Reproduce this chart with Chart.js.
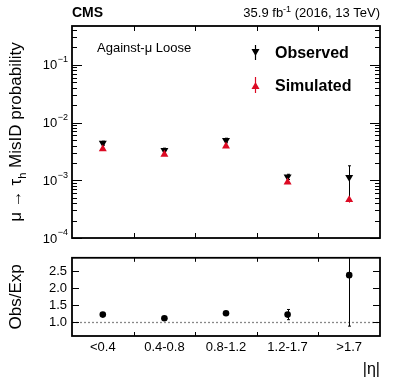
<!DOCTYPE html>
<html><head><meta charset="utf-8">
<script src="https://cdn.jsdelivr.net/npm/chart.js@4"></script>
<style>
html,body{margin:0;padding:0;background:#fff;width:399px;height:383px;overflow:hidden}
#w1{position:absolute;left:0;top:0;width:399px;height:245px}
#w2{position:absolute;left:0;top:245px;width:399px;height:138px}
</style></head><body>
<div id="w1"><canvas id="c1"></canvas></div>
<div id="w2"><canvas id="c2"></canvas></div>
<script>
const categories = ['<0.4', '0.4-0.8', '0.8-1.2', '1.2-1.7', '>1.7'];
const observed = [4.4e-3, 3.3e-3, 4.9e-3, 1.15e-3, 1.13e-3];
const observedErrUp = [0.35e-3, 0.3e-3, 0.45e-3, 0.12e-3, 0.65e-3];
const observedErrDown = [0.35e-3, 0.3e-3, 0.45e-3, 0.12e-3, 0.70e-3];
const simulated = [3.5e-3, 2.8e-3, 3.9e-3, 0.93e-3, 0.46e-3];
const simulatedErr = [0.15e-3, 0.12e-3, 0.15e-3, 0.06e-3, 0.05e-3];
const ratio = [1.23, 1.12, 1.27, 1.23, 2.39];
const ratioErrUp = [0.03, 0.03, 0.03, 0.15, 1.2];
const ratioErrDown = [0.03, 0.03, 0.03, 0.15, 1.5];
const logTickExponents = [-4, -3, -2, -1];
const ratioTicks = [1.0, 1.5, 2.0, 2.5];

const FONT = '"Liberation Sans", Arial, Helvetica, sans-serif';
const RED = '#dc0a23';
Chart.defaults.font.family = FONT;
Chart.defaults.animation = false;

function frameAndXTicks(ctx, ca, xs, len) {
  const n = categories.length;
  ctx.strokeStyle = '#000'; ctx.lineWidth = 1;
  for (let i = 1; i < n; i++) {
    const x = Math.round((xs.getPixelForValue(i - 1) + xs.getPixelForValue(i)) / 2) + 0.5;
    ctx.beginPath();
    ctx.moveTo(x, ca.bottom); ctx.lineTo(x, ca.bottom - len);
    ctx.moveTo(x, ca.top); ctx.lineTo(x, ca.top + len);
    ctx.stroke();
  }
  ctx.lineWidth = 1.8;
  ctx.strokeRect(ca.left, ca.top, ca.right - ca.left, ca.bottom - ca.top);
}

function errBar(ctx, x, y1, y2, cap, color, ca) {
  ctx.save();
  ctx.beginPath(); ctx.rect(ca.left, ca.top, ca.right - ca.left, ca.bottom - ca.top); ctx.clip();
  ctx.strokeStyle = color; ctx.lineWidth = 1;
  ctx.beginPath();
  ctx.moveTo(x, y1); ctx.lineTo(x, y2);
  if (cap) {
    ctx.moveTo(x - cap, y1); ctx.lineTo(x + cap, y1);
    ctx.moveTo(x - cap, y2); ctx.lineTo(x + cap, y2);
  }
  ctx.stroke();
  ctx.restore();
}

const mainPlugin = {
  id: 'mainDeco',
  beforeDatasetsDraw(chart) {
    const {ctx, chartArea: ca, scales: {x, y}} = chart;
    for (let i = 0; i < categories.length; i++) {
      const px = Math.round(x.getPixelForValue(i)) + 0.5;
      errBar(ctx, px, y.getPixelForValue(simulated[i] + simulatedErr[i]), y.getPixelForValue(simulated[i] - simulatedErr[i]), 0, RED, ca);
      errBar(ctx, px, y.getPixelForValue(observed[i] + observedErrUp[i]), y.getPixelForValue(observed[i] - observedErrDown[i]), 1.5, '#000', ca);
    }
  },
  afterDraw(chart) {
    const {ctx, chartArea: ca, scales: {x, y}} = chart;
    ctx.save();
    ctx.strokeStyle = '#000'; ctx.lineWidth = 1;
    for (let k = logTickExponents[0]; k <= 0; k++) {
      for (let m = 1; m <= 9; m++) {
        const v = m * Math.pow(10, k);
        if (v < y.min || v > y.max) continue;
        const py = Math.round(y.getPixelForValue(v)) + 0.5;
        const len = m === 1 ? 10 : 5;
        ctx.beginPath();
        ctx.moveTo(ca.left, py); ctx.lineTo(ca.left + len, py);
        ctx.moveTo(ca.right, py); ctx.lineTo(ca.right - len, py);
        ctx.stroke();
      }
    }
    frameAndXTicks(ctx, ca, x, 5);
    ctx.fillStyle = '#000';
    ctx.textBaseline = 'middle';
    for (const e of logTickExponents) {
      const py = y.getPixelForValue(Math.pow(10, e));
      const expTxt = '\u2212' + Math.abs(e);
      ctx.font = '9px ' + FONT;
      const we = ctx.measureText(expTxt).width;
      ctx.textAlign = 'right';
      ctx.fillText(expTxt, 68, py - 5);
      ctx.font = '13px ' + FONT;
      ctx.fillText('10', 68 - we - 0.5, py + 1);
    }
    ctx.save();
    ctx.translate(16, (ca.top + ca.bottom) / 2);
    ctx.rotate(-Math.PI / 2);
    ctx.textAlign = 'left'; ctx.textBaseline = 'middle';
    const p1 = '\u03bc \u2192 \u03c4', p2 = 'h', p3 = ' MisID probability';
    ctx.font = '17px ' + FONT; const w1 = ctx.measureText(p1).width, w3 = ctx.measureText(p3).width;
    ctx.font = '11px ' + FONT; const w2 = ctx.measureText(p2).width;
    let sx = -(w1 + w2 + w3) / 2;
    ctx.font = '17px ' + FONT; ctx.fillText(p1, sx, 0); sx += w1;
    ctx.font = '11px ' + FONT; ctx.fillText(p2, sx, 7); sx += w2;
    ctx.font = '17px ' + FONT; ctx.fillText(p3, sx, 0);
    ctx.restore();
    ctx.textBaseline = 'alphabetic';
    ctx.textAlign = 'left';
    ctx.font = 'bold 14px ' + FONT;
    ctx.fillText('CMS', ca.left, 17);
    ctx.textAlign = 'right';
    ctx.font = '13px ' + FONT;
    const tail = ' (2016, 13 TeV)';
    const wt = ctx.measureText(tail).width;
    ctx.fillText(tail, ca.right, 17);
    ctx.font = '9px ' + FONT;
    const sup = '-1';
    const ws = ctx.measureText(sup).width;
    ctx.fillText(sup, ca.right - wt, 12);
    ctx.font = '13px ' + FONT;
    ctx.fillText('35.9 fb', ca.right - wt - ws, 17);
    ctx.textAlign = 'left';
    ctx.font = '13px ' + FONT;
    ctx.fillText('Against-\u03bc Loose', 97, 52);
    const lx = 255;
    ctx.strokeStyle = '#000'; ctx.lineWidth = 1.2;
    ctx.beginPath(); ctx.moveTo(lx + 0.5, 45); ctx.lineTo(lx + 0.5, 60); ctx.stroke();
    ctx.fillStyle = '#000';
    ctx.beginPath(); ctx.moveTo(lx - 3.5, 49); ctx.lineTo(lx + 4.5, 49); ctx.lineTo(lx + 0.5, 56); ctx.closePath(); ctx.fill();
    ctx.strokeStyle = RED;
    ctx.beginPath(); ctx.moveTo(lx + 0.5, 77); ctx.lineTo(lx + 0.5, 93); ctx.stroke();
    ctx.fillStyle = RED;
    ctx.beginPath(); ctx.moveTo(lx - 3.5, 89); ctx.lineTo(lx + 4.5, 89); ctx.lineTo(lx + 0.5, 82); ctx.closePath(); ctx.fill();
    ctx.fillStyle = '#000';
    ctx.font = 'bold 16px ' + FONT;
    ctx.fillText('Observed', 275, 58);
    ctx.fillText('Simulated', 275, 91);
    ctx.restore();
  }
};

const ratioPlugin = {
  id: 'ratioDeco',
  beforeDatasetsDraw(chart) {
    const {ctx, chartArea: ca, scales: {x, y}} = chart;
    ctx.save();
    ctx.strokeStyle = '#888'; ctx.lineWidth = 1.3; ctx.setLineDash([2, 2]);
    const py = Math.round(y.getPixelForValue(1.0)) + 0.5;
    ctx.beginPath(); ctx.moveTo(ca.left, py); ctx.lineTo(ca.right, py); ctx.stroke();
    ctx.restore();
    for (let i = 0; i < categories.length; i++) {
      const px = Math.round(x.getPixelForValue(i)) + 0.5;
      errBar(ctx, px, y.getPixelForValue(ratio[i] + ratioErrUp[i]), y.getPixelForValue(ratio[i] - ratioErrDown[i]), 1.5, '#000', ca);
    }
  },
  afterDraw(chart) {
    const {ctx, chartArea: ca, scales: {x, y}} = chart;
    ctx.save();
    ctx.strokeStyle = '#000'; ctx.lineWidth = 1;
    for (const v of ratioTicks) {
      const py = Math.round(y.getPixelForValue(v)) + 0.5;
      ctx.beginPath();
      ctx.moveTo(ca.left, py); ctx.lineTo(ca.left + 7, py);
      ctx.moveTo(ca.right, py); ctx.lineTo(ca.right - 7, py);
      ctx.stroke();
    }
    frameAndXTicks(ctx, ca, x, 4);
    ctx.fillStyle = '#000';
    ctx.save();
    ctx.translate(16, (ca.top + ca.bottom) / 2);
    ctx.rotate(-Math.PI / 2);
    ctx.textAlign = 'center'; ctx.textBaseline = 'middle';
    ctx.font = '17px ' + FONT;
    ctx.fillText('Obs/Exp', 0, 0);
    ctx.restore();
    ctx.textAlign = 'right'; ctx.textBaseline = 'alphabetic';
    ctx.font = '16px ' + FONT;
    ctx.fillText('|\u03b7|', ca.right, 129);
    ctx.restore();
  }
};

new Chart(document.getElementById('c1'), {
  type: 'line',
  data: {
    labels: categories,
    datasets: [
      {label: 'Simulated', data: simulated, showLine: false, pointStyle: 'triangle', pointRadius: 4.6, pointBackgroundColor: RED, pointBorderColor: RED, pointBorderWidth: 0},
      {label: 'Observed', data: observed, showLine: false, pointStyle: 'triangle', rotation: 180, pointRotation: 180, pointRadius: 4.6, pointBackgroundColor: '#000', pointBorderColor: '#000', pointBorderWidth: 0}
    ]
  },
  options: {
    responsive: true, maintainAspectRatio: false,
    layout: {padding: {top: 26, bottom: 7, right: 19, left: 0}},
    plugins: {legend: {display: false}, tooltip: {enabled: false}},
    scales: {
      x: {type: 'category', offset: true, display: false},
      y: {type: 'logarithmic', min: 1e-4, max: 0.47, display: true,
          grid: {display: false, drawTicks: false}, border: {display: false},
          ticks: {display: false},
          afterFit(s) { s.width = 72; }}
    }
  },
  plugins: [mainPlugin]
});

new Chart(document.getElementById('c2'), {
  type: 'line',
  data: {
    labels: categories,
    datasets: [
      {label: 'Obs/Exp', data: ratio, showLine: false, pointStyle: 'circle', pointRadius: 3.3, pointBackgroundColor: '#000', pointBorderColor: '#000', pointBorderWidth: 0}
    ]
  },
  options: {
    responsive: true, maintainAspectRatio: false,
    layout: {padding: {top: 10, bottom: 0, right: 19, left: 0}},
    plugins: {legend: {display: false}, tooltip: {enabled: false}},
    scales: {
      x: {type: 'category', offset: true,
          grid: {display: false, drawTicks: false}, border: {display: false},
          ticks: {color: '#000', font: {size: 13}, padding: 4, maxRotation: 0, autoSkip: false},
          afterFit(s) { s.height = 47; }},
      y: {type: 'linear', min: 0.6, max: 2.9,
          grid: {display: false, drawTicks: false}, border: {display: false},
          afterBuildTicks(s) { s.ticks = ratioTicks.map(v => ({value: v})); },
          ticks: {color: '#000', font: {size: 13}, padding: 5, callback: v => Number(v).toFixed(1)},
          afterFit(s) { s.width = 72; }}
    }
  },
  plugins: [ratioPlugin]
});
</script>
</body></html>
